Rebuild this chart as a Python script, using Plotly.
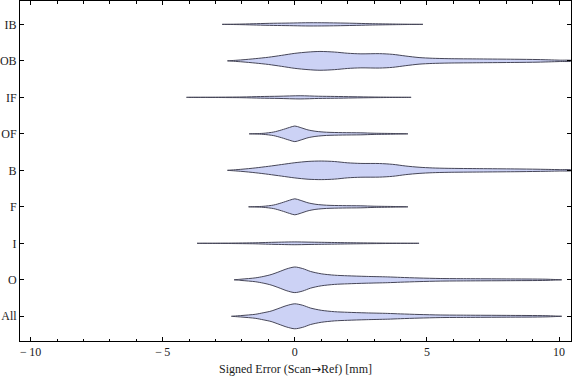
import plotly.graph_objects as go

# Categories, bottom to top
categories = ["All", "O", "I", "F", "B", "OF", "IF", "OB", "IB"]

# Violin profiles: x positions (mm) and relative density (half-width)
all_x = [-2.4, -2.0, -1.5, -1.2, -0.9, -0.6, -0.3, 0.0, 0.3, 0.6, 1.0, 1.5, 2.0, 2.7, 3.5, 4.0, 4.7, 5.5, 6.5, 8.0, 9.5, 10.1]
all_d = [0, 0.8, 2.0, 3.5, 5.2, 8.0, 10.8, 12.5, 11.0, 8.2, 6.0, 4.6, 4.0, 3.4, 2.9, 2.4, 1.8, 1.3, 1.1, 0.9, 0.6, 0]

o_x = [-2.3, -2.0, -1.5, -1.2, -0.9, -0.6, -0.3, 0.0, 0.3, 0.6, 1.0, 1.5, 2.0, 2.7, 3.5, 4.0, 4.7, 5.5, 6.5, 8.0, 9.5, 10.1]
o_d = [0, 0.7, 1.9, 3.3, 5.2, 8.0, 11.0, 12.8, 11.2, 8.3, 6.0, 4.6, 4.0, 3.4, 2.9, 2.4, 1.8, 1.3, 1.1, 0.9, 0.6, 0]

i_x = [-3.7, -2.5, -1.5, -1.0, -0.5, 0.0, 0.5, 1.0, 1.5, 2.0, 3.0, 4.7]
i_d = [0, 0.2, 0.5, 0.9, 1.2, 1.4, 1.2, 1.0, 0.8, 0.6, 0.3, 0]

f_x = [-1.75, -1.2, -0.8, -0.5, -0.2, 0.0, 0.2, 0.5, 0.8, 1.2, 1.8, 2.5, 3.0, 3.8, 4.28]
f_d = [0, 0.5, 1.8, 4.0, 6.6, 8.0, 6.6, 4.0, 2.5, 1.6, 1.2, 1.0, 0.6, 0.3, 0]

b_x = [-2.55, -2.0, -1.5, -1.0, -0.5, 0.0, 0.5, 1.0, 1.5, 2.0, 2.5, 3.2, 3.7, 4.2, 4.7, 5.2, 5.8, 7.0, 8.3, 9.2, 10.0, 10.5]
b_d = [0, 1.1, 2.4, 4.0, 5.8, 7.6, 8.9, 9.3, 8.8, 7.5, 6.9, 6.8, 6.0, 4.3, 3.1, 2.4, 2.0, 1.7, 1.4, 1.1, 0.7, 0.3]

of_x = [-1.73, -1.2, -0.8, -0.5, -0.2, 0.0, 0.2, 0.5, 0.8, 1.2, 1.8, 2.5, 3.0, 3.8, 4.28]
of_d = [0, 0.5, 1.8, 3.9, 6.4, 7.8, 6.4, 3.9, 2.5, 1.6, 1.2, 1.0, 0.6, 0.3, 0]

if_x = [-4.1, -3.0, -2.0, -1.3, -0.6, 0.2, 0.9, 1.5, 2.2, 3.0, 4.4]
if_d = [0, 0.15, 0.35, 0.8, 1.1, 1.6, 1.1, 0.9, 0.6, 0.3, 0]

ob_x = [-2.55, -2.0, -1.5, -1.0, -0.5, 0.0, 0.5, 0.95, 1.5, 2.0, 2.5, 3.2, 3.7, 4.2, 4.7, 5.2, 5.8, 7.0, 8.3, 9.2, 10.0, 10.5]
ob_d = [0, 1.0, 2.2, 3.6, 5.5, 7.5, 8.8, 9.4, 8.8, 7.6, 7.0, 7.2, 6.5, 4.8, 3.3, 2.6, 2.2, 1.9, 1.6, 1.3, 0.7, 0.3]

ib_x = [-2.75, -2.0, -1.45, -0.8, -0.2, 0.4, 1.0, 1.6, 2.2, 2.84, 3.8, 4.85]
ib_d = [0, 0.3, 0.7, 1.1, 1.3, 1.6, 1.6, 1.4, 1.1, 0.7, 0.3, 0]

profiles = [(all_x, all_d), (o_x, o_d), (i_x, i_d), (f_x, f_d), (b_x, b_d),
            (of_x, of_d), (if_x, if_d), (ob_x, ob_d), (ib_x, ib_d)]

x_ticks = [-10, -5, 0, 5, 10]
x_title = "Signed Error (Scan<span style='font-family:DejaVu Sans'>\u2192</span>Ref) [mm]"

WIDTH_SCALE = 1 / 36.5
FILL = "rgb(204,210,245)"
EDGE = "rgb(70,70,88)"
SERIF = "Liberation Serif, DejaVu Serif, serif"

fig = go.Figure()
for k, (xs, ds) in enumerate(profiles):
    c = k + 1
    px = list(xs) + list(reversed(xs)) + [xs[0]]
    py = [c + d * WIDTH_SCALE for d in ds] + [c - d * WIDTH_SCALE for d in reversed(ds)] + [c]
    fig.add_trace(go.Scatter(
        x=px, y=py, mode="lines", fill="toself", fillcolor=FILL,
        line=dict(color=EDGE, width=1, shape="spline", smoothing=0.8),
        hoverinfo="skip", showlegend=False,
    ))

fig.update_layout(
    width=576, height=381,
    margin=dict(l=20, r=5, t=1, b=40, autoexpand=False),
    plot_bgcolor="white", paper_bgcolor="white",
    font=dict(family=SERIF, size=12, color="#1a1a1a"),
    showlegend=False,
)
fig.update_xaxes(
    range=[-10.4, 10.45], tickvals=x_ticks, ticktext=[("\u2212\u2009" if v < 0 else "") + str(abs(v)) for v in x_ticks],
    ticks="inside", ticklen=4, tickcolor="black", tickwidth=1,
    minor=dict(ticks="inside", dtick=1, ticklen=2.5, tickcolor="black", tickwidth=1),
    showline=True, linecolor="black", linewidth=1, mirror="allticks",
    showgrid=False, zeroline=False, automargin=False,
    title=dict(text=x_title, font=dict(family=SERIF, size=12), standoff=6),
    tickfont=dict(family=SERIF, size=12),
)
fig.update_yaxes(
    range=[0.323, 9.64], tickvals=list(range(1, len(categories) + 1)), ticktext=categories,
    ticks="inside", ticklen=4, tickcolor="black", tickwidth=1,
    showline=True, linecolor="black", linewidth=1, mirror="allticks",
    showgrid=False, zeroline=False, automargin=False,
    tickfont=dict(family=SERIF, size=12),
)

fig.write_html("out.html", config={"displayModeBar": False, "staticPlot": True},
               post_script="document.body.style.margin='0';document.body.style.overflow='hidden';")
